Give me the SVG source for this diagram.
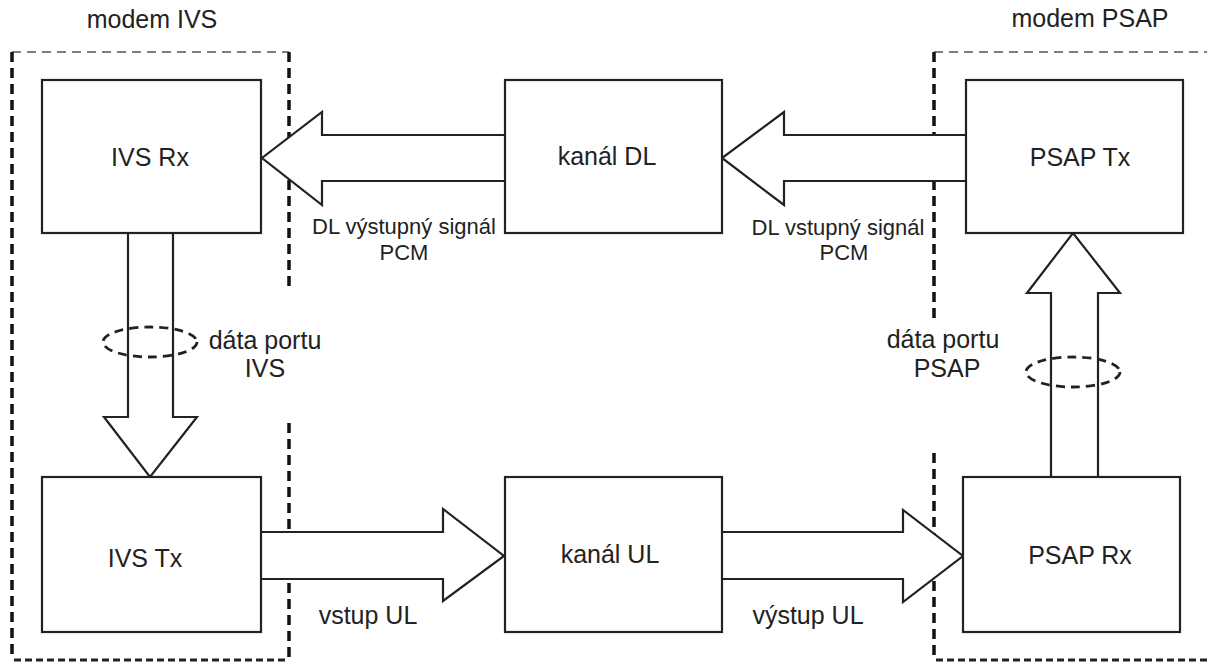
<svg xmlns="http://www.w3.org/2000/svg" width="1207" height="662" viewBox="0 0 1207 662">
  <style>
    .box { fill: #fff; stroke: #222; stroke-width: 2.2; }
    .arrow { fill: #fff; stroke: #222; stroke-width: 2.2; stroke-linejoin: miter; }
    .lbl { font-family: "Liberation Sans", Arial, sans-serif; font-size: 25px; fill: #222; text-anchor: middle; }
    .sm { font-size: 22px; }
    .frame-top { fill: none; stroke: #555; stroke-width: 1.6; stroke-dasharray: 9 6; }
    .frame-side { fill: none; stroke: #111; stroke-width: 3.5; stroke-dasharray: 10 6; }
    .frame-bot { fill: none; stroke: #222; stroke-width: 3.2; stroke-dasharray: 7 4; }
    .bundle { fill: none; stroke: #222; stroke-width: 2.8; stroke-dasharray: 9 6; }
  </style>
  <rect width="1207" height="662" fill="#fff"/>

  <!-- modem boundaries -->
  <g id="modem-ivs">
    <path class="frame-top" d="M12,52 H289"/>
    <path class="frame-side" d="M12,52 V660 M289,52 V290 M289,423 V660"/>
    <path class="frame-bot" d="M14,660 H289"/>
    <text class="lbl" x="152" y="28">modem IVS</text>
  </g>
  <g id="modem-psap">
    <path class="frame-top" d="M934,52 H1207"/>
    <path class="frame-side" d="M934,52 V320 M934,453 V660"/>
    <path class="frame-bot" d="M936,660 H1207"/>
    <text class="lbl" x="1090" y="27">modem PSAP</text>
  </g>

  <!-- connectors (wide block arrows) -->
  <g id="connectors">
    <!-- PSAP Tx -> kanál DL -->
    <path class="arrow" d="M966,135 H784 V112 L722,158 L784,205 V181 H966"/>
    <!-- kanál DL -> IVS Rx -->
    <path class="arrow" d="M505,135 H322 V112 L262,158 L322,205 V181 H505"/>
    <!-- IVS Rx -> IVS Tx -->
    <path class="arrow" d="M128,233 V417 H104 L150,477 L197,417 H173 V233"/>
    <!-- IVS Tx -> kanál UL -->
    <path class="arrow" d="M261,532 H443 V509 L504,556 L443,601 V579 H261"/>
    <!-- kanál UL -> PSAP Rx -->
    <path class="arrow" d="M722,532 H903 V510 L963,556 L903,602 V579 H722"/>
    <!-- PSAP Rx -> PSAP Tx -->
    <path class="arrow" d="M1051,476 V293 H1027 L1073,233 L1120,293 H1098 V476"/>
    <!-- port data bundles -->
    <ellipse class="bundle" cx="150" cy="342" rx="47" ry="15"/>
    <ellipse class="bundle" cx="1073" cy="372" rx="47" ry="15"/>
  </g>

  <!-- blocks -->
  <g id="ivs-rx">
    <rect class="box" x="42" y="80" width="219" height="153"/>
    <text class="lbl" x="150" y="166">IVS Rx</text>
  </g>
  <g id="kanal-dl">
    <rect class="box" x="505" y="80" width="217" height="153"/>
    <text class="lbl" x="607" y="165">kanál DL</text>
  </g>
  <g id="psap-tx">
    <rect class="box" x="966" y="80" width="217" height="153"/>
    <text class="lbl" x="1080" y="166">PSAP Tx</text>
  </g>
  <g id="ivs-tx">
    <rect class="box" x="42" y="477" width="219" height="155"/>
    <text class="lbl" x="145" y="567">IVS Tx</text>
  </g>
  <g id="kanal-ul">
    <rect class="box" x="505" y="477" width="217" height="155"/>
    <text class="lbl" x="610" y="563">kanál UL</text>
  </g>
  <g id="psap-rx">
    <rect class="box" x="963" y="477" width="217" height="155"/>
    <text class="lbl" x="1080" y="564">PSAP Rx</text>
  </g>

  <!-- signal labels -->
  <g id="labels">
    <text class="lbl sm" x="404" y="234">DL výstupný signál</text>
    <text class="lbl sm" x="404" y="260">PCM</text>
    <text class="lbl sm" x="838" y="235">DL vstupný signál</text>
    <text class="lbl sm" x="844" y="260">PCM</text>
    <text class="lbl" x="265" y="349">dáta portu</text>
    <text class="lbl" x="265" y="377">IVS</text>
    <text class="lbl" x="943" y="348">dáta portu</text>
    <text class="lbl" x="947" y="377">PSAP</text>
    <text class="lbl" x="368" y="624">vstup UL</text>
    <text class="lbl" x="808" y="624">výstup UL</text>
  </g>
</svg>
